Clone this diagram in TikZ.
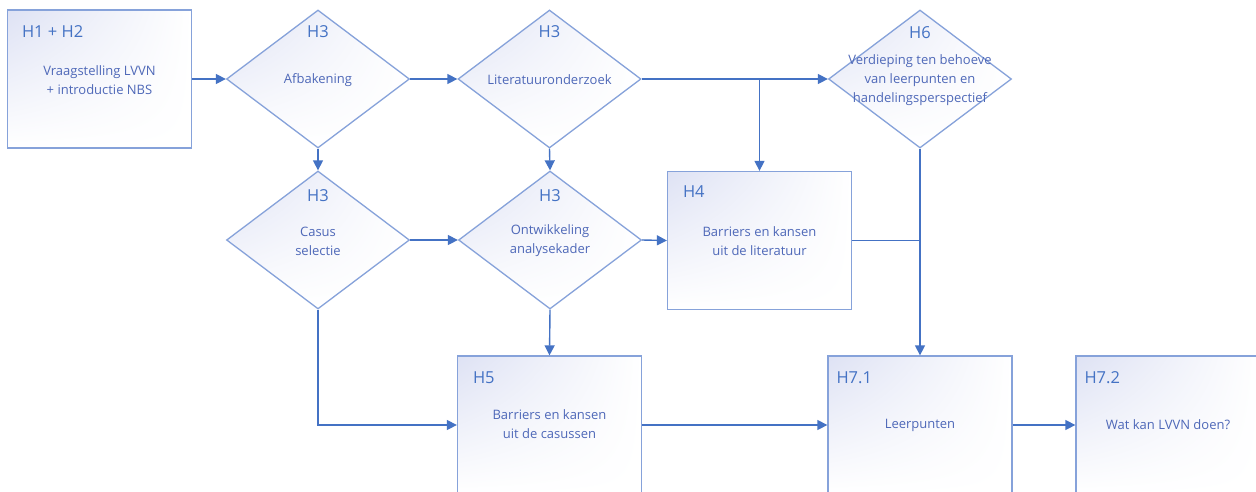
\documentclass[tikz,border=0pt]{standalone}
\usepackage{fontspec}
\setmainfont{Open Sans}
\usetikzlibrary{shapes.geometric,arrows.meta,calc,shadings}

\definecolor{conncol}{HTML}{4472C4}
\definecolor{edgecol}{HTML}{86A2DA}
\definecolor{headcol}{HTML}{4472C4}
\definecolor{bodycol}{HTML}{4E68B8}
\definecolor{tint}{HTML}{DEE2F4}

\tikzset{
  shapefill/.style={upper left=tint, upper right=white, lower left=white, lower right=white, draw=edgecol, line width=1.3pt},
  stepbox/.style={shapefill, rectangle, minimum width=184pt, minimum height=138pt, inner sep=0pt},
  choice/.style={shapefill, diamond, minimum width=183pt, minimum height=138pt, inner sep=0pt},
  head/.style={text=headcol, font=\fontsize{16.5}{19}\selectfont, inner sep=0pt},
  body/.style={text=bodycol, font=\fontsize{13}{19}\selectfont, align=center, inner sep=0pt},
  conn/.style={draw=conncol, line width=1.4pt, -{Triangle[length=10pt,width=10pt]}},
  wire/.style={draw=conncol, line width=1.4pt},
}

\begin{document}
\begin{tikzpicture}[x=1pt,y=-1pt]
\useasboundingbox (0,0) rectangle (1256,491);
\clip (0,0) rectangle (1256,491);
\fill[white] (0,0) rectangle (1256,491);

% process boxes
\node[stepbox] (intro) at (99.5,79) {};
\node[stepbox] (lit4) at (759.5,240.5) {};
\node[stepbox] (cases5) at (549.5,425) {};
\node[stepbox] (learn) at (920,425) {};
\node[stepbox] (act) at (1168,425) {};

% decision diamonds
\node[choice] (scope) at (318,79) {};
\node[choice] (review) at (549.5,79) {};
\node[choice] (deep) at (920,79) {};
\node[choice] (select) at (318,240) {};
\node[choice] (frame) at (550,240) {};

% chapter headings
\node[head, anchor=west] (introH) at ($(intro.north west)+(15,22)$) {H1 + H2};
\node[head] (scopeH) at (318,32) {H3};
\node[head] (reviewH) at (549.5,32) {H3};
\node[head] (deepH) at (920,33) {H6};
\node[head] (selectH) at (318,196) {H3};
\node[head] (frameH) at (550,196) {H3};
\node[head, anchor=west] (lit4H) at ($(lit4.north west)+(16,21)$) {H4};
\node[head, anchor=west] (cases5H) at ($(cases5.north west)+(16,22)$) {H5};
\node[head, anchor=west] (learnH) at ($(learn.north west)+(9,22)$) {H7.1};
\node[head, anchor=west] (actH) at ($(act.north west)+(9,22)$) {H7.2};

% descriptions
\node[body] (introT) at (99.5,80) {Vraagstelling LVVN\\+ introductie NBS};
\node[body] (scopeT) at (318,80) {Afbakening};
\node[body] (reviewT) at (549.5,80) {Literatuuronderzoek};
\node[body] (deepT) at (920,80) {Verdieping ten behoeve\\van leerpunten en\\handelingsperspectief};
\node[body] (selectT) at (318,241) {Casus\\selectie};
\node[body] (frameT) at (550,241) {Ontwikkeling\\analysekader};
\node[body] (lit4T) at (759.5,241) {Barriers en kansen\\uit de literatuur};
\node[body] (cases5T) at (549.5,424.5) {Barriers en kansen\\uit de casussen};
\node[body] (learnT) at (920,425) {Leerpunten};
\node[body] (actT) at (1168,425) {Wat kan LVVN doen?};

% connectors
\draw[conn] (intro.east) -- (scope.west);
\draw[conn] (scope.east) -- (review.west);
\draw[conn] (review.east) -- (deep.west);
\draw[conn] (review.east -| lit4.north) -- (lit4.north);
\draw[conn] (scope.south) -- (select.north);
\draw[conn] (review.south) -- (frame.north);
\draw[conn] (select.east) -- (frame.west);
\draw[conn] (frame.east) -- (lit4.west);
\draw[wire] (lit4.east) -- (lit4.east -| deep.south);
\draw[conn] (deep.south) -- (learn.north);
\draw[conn] (frame.south) -- (cases5.north);
\draw[conn] (select.south) |- (cases5.west);
\draw[conn] (cases5.east) -- (cases5.east -| learn.west);
\draw[conn] (learn.east) -- (act.west);
\end{tikzpicture}
\end{document}
